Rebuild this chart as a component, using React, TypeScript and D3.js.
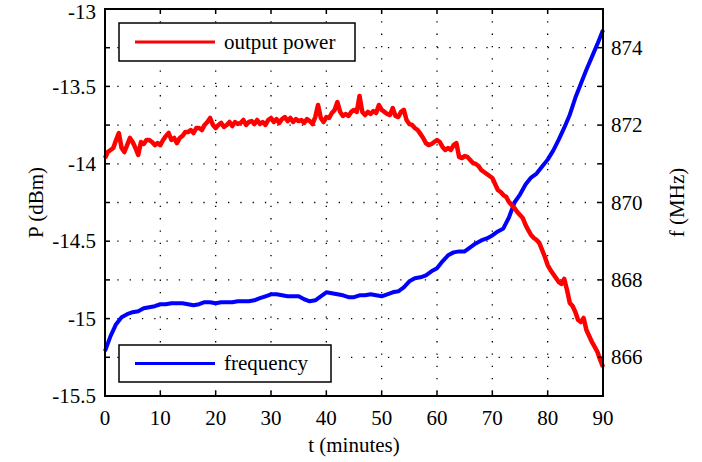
import { useEffect, useRef } from "react";
import * as d3 from "d3";

// output power, one sample every 0.5 min (dBm)
const powerT0 = 0;
const powerStep = 0.5;
const power = [
  -13.963, -13.924, -13.911, -13.898, -13.846, -13.801, -13.898, -13.924, -13.879, -13.833,
  -13.859, -13.898, -13.943, -13.859, -13.872, -13.846, -13.846, -13.859, -13.879, -13.866,
  -13.879, -13.846, -13.82, -13.801, -13.846, -13.833, -13.866, -13.833, -13.82, -13.795,
  -13.795, -13.782, -13.801, -13.769, -13.769, -13.782, -13.749, -13.73, -13.704, -13.749,
  -13.769, -13.749, -13.736, -13.762, -13.749, -13.73, -13.756, -13.73, -13.743, -13.736,
  -13.717, -13.749, -13.73, -13.724, -13.743, -13.717, -13.743, -13.73, -13.749, -13.717,
  -13.704, -13.73, -13.711, -13.736, -13.711, -13.698, -13.724, -13.704, -13.73, -13.711,
  -13.724, -13.717, -13.736, -13.711, -13.724, -13.743, -13.698, -13.62, -13.704, -13.73,
  -13.698, -13.704, -13.672, -13.652, -13.601, -13.665, -13.691, -13.678, -13.691, -13.665,
  -13.652, -13.665, -13.562, -13.665, -13.685, -13.665, -13.678, -13.659, -13.672, -13.62,
  -13.652, -13.665, -13.678, -13.685, -13.64, -13.691, -13.698, -13.665, -13.652, -13.717,
  -13.743, -13.749, -13.769, -13.782, -13.807, -13.833, -13.866, -13.879, -13.872, -13.859,
  -13.846, -13.859, -13.891, -13.911, -13.898, -13.911, -13.879, -13.866, -13.956, -13.963,
  -13.95, -13.956, -13.975, -13.995, -14.001, -14.014, -14.04, -14.053, -14.066, -14.079,
  -14.092, -14.13, -14.169, -14.182, -14.202, -14.214, -14.247, -14.266, -14.286, -14.311,
  -14.331, -14.35, -14.395, -14.428, -14.46, -14.479, -14.492, -14.512, -14.557, -14.602,
  -14.654, -14.686, -14.712, -14.738, -14.764, -14.776, -14.744, -14.815, -14.899, -14.919,
  -14.957, -15.009, -15.022, -14.996, -15.074, -15.112, -15.151, -15.183, -15.216, -15.267,
  -15.313,
];

// frequency, one sample per minute (MHz)
const freqStep = 1;
const frequency = [
  866.16, 866.546, 866.856, 867.036, 867.113, 867.165, 867.191, 867.268, 867.294, 867.32,
  867.371, 867.371, 867.397, 867.397, 867.397, 867.371, 867.345, 867.371, 867.423, 867.423,
  867.397, 867.423, 867.423, 867.423, 867.448, 867.448, 867.448, 867.474, 867.526, 867.577,
  867.629, 867.629, 867.603, 867.577, 867.577, 867.577, 867.5, 867.448, 867.474, 867.577,
  867.68, 867.655, 867.629, 867.603, 867.552, 867.552, 867.603, 867.603, 867.629, 867.603,
  867.577, 867.629, 867.68, 867.706, 867.809, 867.964, 868.041, 868.067, 868.119, 868.222,
  868.299, 868.479, 868.634, 868.711, 868.737, 868.737, 868.84, 868.943, 869.021, 869.072,
  869.15, 869.253, 869.33, 869.613, 870.0, 870.206, 870.464, 870.644, 870.747, 870.928,
  871.108, 871.34, 871.624, 871.933, 872.268, 872.706, 873.067, 873.428, 873.763, 874.098,
  874.459,
];

const xTicks = [0, 10, 20, 30, 40, 50, 60, 70, 80, 90];
const pTicks = [-15.5, -15, -14.5, -14, -13.5, -13];
const fTicks = [866, 868, 870, 872, 874];

const W = 702;
const H = 462;
const FONT = "'Liberation Serif', 'Times New Roman', serif";

function App() {
  const ref = useRef<SVGSVGElement | null>(null);

  useEffect(() => {
    const svg = d3.select(ref.current);
    svg.selectAll("*").remove();

    const m = { left: 105, right: 603, top: 9, bottom: 396 };

    const x = d3.scaleLinear().domain([0, 90]).range([m.left, m.right]);
    const yP = d3.scaleLinear().domain([-15.5, -13]).range([m.bottom, m.top]);
    const yF = d3.scaleLinear().domain([865, 875]).range([m.bottom, m.top]);

    // gitter (gepunktet)
    const grid = svg.append("g").attr("stroke", "#000").attr("stroke-width", 1.3)
      .attr("stroke-dasharray", "1.3,11");
    xTicks.slice(1, -1).forEach((t) => {
      grid.append("line").attr("x1", x(t)).attr("x2", x(t))
        .attr("y1", m.top).attr("y2", m.bottom);
    });
    pTicks.slice(1, -1).forEach((v) => {
      grid.append("line").attr("x1", m.left).attr("x2", m.right)
        .attr("y1", yP(v)).attr("y2", yP(v));
    });
    fTicks.forEach((v) => {
      grid.append("line").attr("x1", m.left).attr("x2", m.right)
        .attr("y1", yF(v)).attr("y2", yF(v));
    });

    const linePower = d3.line<number>()
      .x((_, i) => x(powerT0 + i * powerStep))
      .y((d) => yP(d));
    const lineFreq = d3.line<number>()
      .x((_, i) => x(i * freqStep))
      .y((d) => yF(d));

    svg.append("path").datum(frequency).attr("fill", "none").attr("stroke", "#0000ff")
      .attr("stroke-width", 4).attr("stroke-linejoin", "round").attr("d", lineFreq);
    svg.append("path").datum(power).attr("fill", "none").attr("stroke", "#ff0000")
      .attr("stroke-width", 4.5).attr("stroke-linejoin", "round").attr("d", linePower);

    // ticks, innen, auf beiden Seiten
    const tl = 5;
    const ticks = svg.append("g").attr("stroke", "#000").attr("stroke-width", 1.5);
    xTicks.forEach((t) => {
      ticks.append("line").attr("x1", x(t)).attr("x2", x(t)).attr("y1", m.bottom).attr("y2", m.bottom - tl);
      ticks.append("line").attr("x1", x(t)).attr("x2", x(t)).attr("y1", m.top).attr("y2", m.top + tl);
    });
    [...pTicks.map((v) => yP(v)), ...fTicks.map((v) => yF(v))].forEach((yy) => {
      ticks.append("line").attr("x1", m.left).attr("x2", m.left + tl).attr("y1", yy).attr("y2", yy);
      ticks.append("line").attr("x1", m.right).attr("x2", m.right - tl).attr("y1", yy).attr("y2", yy);
    });

    svg.append("rect").attr("x", m.left).attr("y", m.top)
      .attr("width", m.right - m.left).attr("height", m.bottom - m.top)
      .attr("fill", "none").attr("stroke", "#000").attr("stroke-width", 2);

    const txt = svg.append("g").attr("font-family", FONT).attr("font-size", 21).attr("fill", "#000");
    xTicks.forEach((t) => {
      txt.append("text").attr("x", x(t)).attr("y", 425).attr("text-anchor", "middle").text(t);
    });
    pTicks.forEach((v) => {
      // oberstes Label minimal nach unten, damit es nicht angeschnitten wird
      txt.append("text").attr("x", 96).attr("y", Math.max(yP(v), 11.5)).attr("dy", "0.34em")
        .attr("text-anchor", "end").text(v);
    });
    fTicks.forEach((v) => {
      txt.append("text").attr("x", 611).attr("y", yF(v)).attr("dy", "0.34em").text(v);
    });
    txt.append("text").attr("x", 354).attr("y", 452).attr("text-anchor", "middle").text("t (minutes)");
    txt.append("text").attr("transform", `translate(43,${(m.top + m.bottom) / 2}) rotate(-90)`)
      .attr("text-anchor", "middle").text("P (dBm)");
    txt.append("text").attr("transform", `translate(684,${(m.top + m.bottom) / 2}) rotate(-90)`)
      .attr("text-anchor", "middle").text("f (MHz)");

    // legenden
    const legends = [
      { label: "output power", color: "#ff0000", y: 23, w: 236, h: 38 },
      { label: "frequency", color: "#0000ff", y: 345, w: 212, h: 37 },
    ];
    legends.forEach((l) => {
      const g = svg.append("g");
      g.append("rect").attr("x", 119).attr("y", l.y).attr("width", l.w).attr("height", l.h)
        .attr("fill", "#fff").attr("stroke", "#000").attr("stroke-width", 1.5);
      const cy = l.y + l.h / 2;
      g.append("line").attr("x1", 135).attr("x2", 215).attr("y1", cy).attr("y2", cy)
        .attr("stroke", l.color).attr("stroke-width", 3);
      g.append("text").attr("x", 224).attr("y", cy).attr("dy", "0.32em")
        .attr("font-family", FONT).attr("font-size", 21).text(l.label);
    });
  }, []);

  return (
    <div style={{ position: "absolute", left: 0, top: 0 }}>
      <svg ref={ref} width={W} height={H} viewBox={`0 0 ${W} ${H}`} style={{ display: "block", background: "#fff" }} />
    </div>
  );
}

export default App;
